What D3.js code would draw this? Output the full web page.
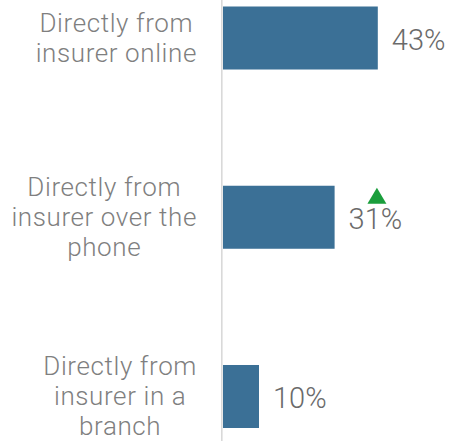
<!DOCTYPE html>
<html>
<head>
<meta charset="utf-8">
<script src="https://d3js.org/d3.v7.min.js"></script>
<style>
body { margin: 0; background: #fff; }
.cat { font-family: Roboto, sans-serif; font-weight: 300; font-size: 26px; fill: #7f7f7f; letter-spacing: 0.6px; }
.val { font-family: Roboto, sans-serif; font-weight: 300; font-size: 29px; fill: #6a6a6a; }
</style>
</head>
<body>
<svg id="chart" width="450" height="441"></svg>
<script>
// data
var categories = [
  ["Directly from", "insurer online"],
  ["Directly from", "insurer over the", "phone"],
  ["Directly from", "insurer in a", "branch"]
];
var values = [43, 31, 10];
var changes = [null, "up", null]; // significant change markers

var svg = d3.select("#chart");

var x = d3.scaleLinear().domain([0, 100]).range([223, 583]);
var y = d3.scaleBand()
  .domain(d3.range(values.length))
  .range([6.5, 428])
  .paddingInner(0.6485)
  .paddingOuter(0);

// axis line
svg.append("line")
  .attr("x1", 221.8).attr("x2", 221.8)
  .attr("y1", 0).attr("y2", 441)
  .attr("stroke", "#d9d9d9")
  .attr("stroke-width", 1.6);

// bars
svg.selectAll("rect.bar").data(values)
  .enter().append("rect")
  .attr("class", "bar")
  .attr("x", x(0))
  .attr("y", function(d, i) { return y(i); })
  .attr("width", function(d) { return x(d) - x(0); })
  .attr("height", y.bandwidth())
  .attr("fill", "#3b7096");

// value labels
var vals = svg.selectAll("text.val").data(values)
  .enter().append("text")
  .attr("class", "val")
  .attr("x", function(d) { return x(d) + 14; })
  .attr("y", function(d, i) { return y(i) + y.bandwidth() / 2 + 11.5; })
  .text(function(d) { return d + "%"; });

// up arrows
vals.each(function(d, i) {
  if (changes[i] !== "up") return;
  var bb = this.getBBox();
  var cx = bb.x + bb.width / 2 + 1.5;
  var base = y(i) + y.bandwidth() / 2 + 11.5 - 25;
  svg.append("path")
    .attr("d", "M" + (cx - 9.5) + "," + base + "L" + (cx + 9.5) + "," + base + "L" + cx + "," + (base - 16) + "Z")
    .attr("fill", "#1a9e3c");
});

// category labels
var rightEdge = 197, lineH = 30;
svg.selectAll("text.cat").data(categories)
  .enter().append("text")
  .attr("class", "cat")
  .attr("text-anchor", "middle")
  .each(function(lines, i) {
    var t = d3.select(this);
    var mid = y(i) + y.bandwidth() / 2;
    var first = mid + 9 - (lines.length - 1) * lineH / 2;
    lines.forEach(function(s, k) {
      t.append("tspan").attr("x", 0).attr("y", first + k * lineH).text(s);
    });
    var w = d3.max(t.selectAll("tspan").nodes(), function(n) { return n.getComputedTextLength(); });
    t.selectAll("tspan").attr("x", rightEdge - w / 2);
  });
</script>
</body>
</html>
